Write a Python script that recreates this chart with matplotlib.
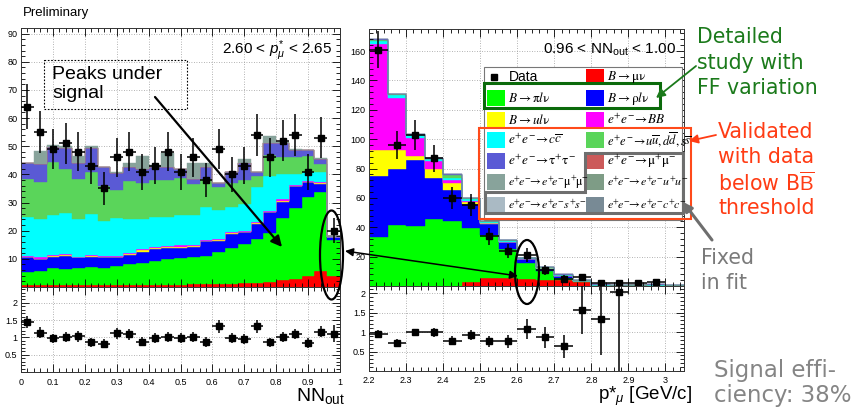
import numpy as np
import matplotlib
matplotlib.use("Agg")
import matplotlib.pyplot as plt
from matplotlib import ticker
from matplotlib.patches import Rectangle, Ellipse, Polygon, FancyArrowPatch

plt.rcParams["font.family"] = ["Liberation Sans", "DejaVu Sans"]
plt.rcParams["mathtext.fontset"] = "custom"
plt.rcParams["mathtext.rm"] = "Liberation Sans"
plt.rcParams["mathtext.it"] = "Liberation Sans:italic"
plt.rcParams["mathtext.bf"] = "Liberation Sans:bold"

# ---------------- binning ----------------
nn_edges = np.linspace(0.0, 1.0, 26)                 # NN_out, 25 bins
p_edges = np.round(np.linspace(2.20, 3.05, 18), 3)   # p*_mu, 17 bins

# ---------------- NN_out distribution (2.60 < p* < 2.65) ----------------
nn_data = [64, 55, 49, 51, 48, 43, 35, 46, 48, 41, 43, 48, 41, 46, 38, 49, 40, 43, 54, 46, 52, 54, 41, 53, 20]
nn_ratio = [1.45, 1.14, 0.97, 1.02, 1.03, 0.86, 0.82, 1.12, 1.09, 0.88, 0.99, 1.01, 0.98, 1.02, 0.86,
            1.32, 0.98, 0.95, 1.32, 0.86, 1.01, 1.10, 0.84, 1.16, 1.10]
nn_munu = [0.6, 0.6, 0.6, 0.6, 0.6, 0.6, 0.6, 0.7, 0.7, 0.7, 0.7, 0.8, 0.8, 0.9, 1.0, 1.1, 1.2, 1.4, 1.5, 1.9, 2.4, 2.7, 3.9, 5.8, 4.0]
nn_pilnu = [4.9, 5.1, 6.3, 5.7, 6.3, 6.5, 6.3, 6.8, 7.4, 8.0, 8.6, 9.1, 9.4, 9.8, 10.1, 11.2, 12.6, 13.8, 15.5, 17.3, 22.1, 25.4, 28.0, 27.9, 12.8]
nn_rholnu = [5.0, 4.2, 3.8, 4.7, 3.6, 3.6, 3.6, 3.0, 3.4, 3.9, 4.2, 3.9, 3.8, 3.6, 5.1, 4.1, 5.0, 4.2, 5.4, 7.3, 5.6, 7.7, 5.3, 3.0, 0.8]
nn_ulnu = [0.2, 0.2, 0.2, 0.3, 0.1, 0.3, 0.2, 0.2, 0.3, 0.4, 0.3, 0.3, 0.3, 0.3, 0.3, 0.2, 0.3, 0.3, 0.3, 0.2, 0.4, 0.2, 0.2, 0.2, 0.1]
nn_bb = [0.2, 0.4, 0.3, 0.4, 0.2, 0.4, 0.3, 0.2, 0.4, 0.5, 0.4, 0.4, 0.5, 0.4, 0.3, 0.4, 0.5, 0.3, 0.3, 0.4, 0.6, 0.3, 0.2, 0.3, 0.1]
nn_cc = [13.9, 13.7, 14.2, 14.7, 13.4, 14.6, 12.6, 13.6, 12.0, 10.7, 10.7, 10.3, 10.6, 10.4, 11.5, 10.5, 8.9, 9.5, 12.5, 12.5, 9.1, 3.7, 3.2, 3.6, 0.2]
nn_uds = [13.4, 13.1, 19.0, 15.6, 14.2, 14.8, 12.4, 10.0, 13.3, 12.7, 13.0, 13.1, 13.4, 11.1, 10.2, 8.0, 8.5, 8.4, 4.0, 7.2, 6.0, 6.2, 5.7, 3.0, 0.1]
nn_tautau = [5.8, 6.5, 5.4, 7.2, 5.6, 8.4, 6.5, 6.0, 5.0, 5.1, 4.6, 4.7, 3.0, 2.0, 4.1, 1.6, 3.8, 6.1, 1.4, 4.2, 4.8, 2.6, 2.1, 1.7, 0.1]
nn_mumu = [0, 0, 0, 0, 0, 0, 0, 0, 0, 0, 0.3, 0, 0, 0, 0, 0, 0, 0, 0, 0, 0, 0, 0, 0, 0]
nn_eemumu = [0.1, 4.4, 0.7, 0.8, 2.6, 0.8, 0.2, 0.5, 1.5, 4.6, 0.5, 4.9, 0.0, 5.7, 1.6, 0.0, 0.0, 1.3, 0.0, 2.5, 0.5, 0.2, 0.2, 0.2, 0.0]

# ---------------- p*_mu distribution (0.96 < NN_out < 1.00) ----------------
p_data = [161, 96, 103, 87, 60, 55, 34, 24, 21, 11, 5, 6, 2, 2, 2, 3, np.nan]
p_ratio = [0.96, 0.73, 0.99, 0.99, 0.78, 0.92, 0.76, 0.76, 1.08, 0.86, 0.63, 1.56, 1.33, 2.02,
           np.nan, np.nan, np.nan]
p_ratio_err = [0.08, 0.08, 0.10, 0.11, 0.11, 0.13, 0.14, 0.17, 0.26, 0.28, 0.30, 0.62, 0.92, 2.10,
               np.nan, np.nan, np.nan]
p_munu = [0.3, 0.3, 0.3, 0.3, 0.3, 2.7, 5.5, 5.3, 4.8, 4.2, 3.8, 3.0, 0, 0, 0, 0, 0]
p_pilnu = [33.1, 40.9, 40.4, 45.0, 44.3, 36.9, 29.5, 19.7, 11.0, 6.3, 1.8, 0.3, 0, 0, 0, 0, 0]
p_rholnu = [41.2, 38.8, 45.1, 28.0, 20.9, 15.9, 7.5, 5.0, 2.5, 1.4, 1.4, 0.2, 0, 0, 0, 0, 0]
p_ulnu = [17.8, 12.8, 2.9, 6.1, 4.3, 1.8, 0.4, 0.2, 0.2, 0.1, 0.1, 0.1, 0, 0, 0, 0, 0]
p_bb = [72.6, 35.5, 12.3, 5.6, 2.5, 0.7, 0.3, 0.1, 0, 0, 0, 0, 0, 0, 0, 0, 0]
p_cc = [1.5, 1.5, 1.5, 1.2, 1.5, 1.0, 0.6, 0.4, 0.3, 0.3, 0.3, 0.1, 0.4, 0.3, 0.3, 0.4, 0.2]
p_uds = [0.8, 0.6, 0.6, 0.6, 1.5, 0.6, 0.4, 0.3, 0.3, 0.3, 0.3, 0.1, 0.5, 0.3, 0.4, 0.4, 0.3]
p_tautau = [0.7, 0.6, 0.7, 0.6, 0.7, 0.4, 0.3, 0.3, 0.2, 0.2, 0.2, 0.15, 0.4, 0.3, 0.3, 0.4, 0.2]
p_eecc = [0, 0, 0, 0, 0, 0, 0, 0, 0, 0, 0, 0, 0.2, 0.1, 0.2, 0.2, 0.1]

# ---------------- component styles ----------------
colors = {
    "munu": "#ff0000", "pilnu": "#00ff00", "rholnu": "#0000ff", "ulnu": "#ffff00",
    "bb": "#ff00ff", "cc": "#00ffff", "uds": "#5ad55a", "tautau": "#5a5ad5",
    "mumu": "#cc5a5a", "eemumu": "#88a39b", "eeuu": "#7e9c86", "eess": "#aabac4",
    "eecc": "#788a95",
}
labels = {
    "munu": r"$B\rightarrow\mathrm{\mu\nu}$",
    "pilnu": r"$B\rightarrow\mathrm{\pi}l\mathrm{\nu}$",
    "rholnu": r"$B\rightarrow\mathrm{\rho}l\mathrm{\nu}$",
    "ulnu": r"$B\rightarrow ul\mathrm{\nu}$",
    "bb": r"$e^{+}e^{-}\!\rightarrow\!BB$",
    "cc": r"$e^{+}e^{-}\!\rightarrow\!c\overline{c}$",
    "uds": r"$e^{+}e^{-}\!\rightarrow\!u\overline{u},d\overline{d},s\overline{s}$",
    "tautau": r"$e^{+}e^{-}\!\rightarrow\!\mathrm{\tau^{+}\tau^{-}}$",
    "mumu": r"$e^{+}e^{-}\!\rightarrow\!\mathrm{\mu^{+}\mu^{-}}$",
    "eemumu": r"$e^{+}\!e^{-}\!\!\rightarrow\!e^{+}\!e^{-}\mathrm{\mu^{+}\!\mu^{-}}$",
    "eeuu": r"$e^{+}\!e^{-}\!\!\rightarrow\!e^{+}\!e^{-}u^{+}\!u^{-}$",
    "eess": r"$e^{+}\!e^{-}\!\!\rightarrow\!e^{+}\!e^{-}s^{+}\!s^{-}$",
    "eecc": r"$e^{+}\!e^{-}\!\!\rightarrow\!e^{+}\!e^{-}c^{+}\!c^{-}$",
}
label_size = {"eemumu": 8.6, "eeuu": 8.6, "eess": 8.6, "eecc": 8.6, "uds": 9.0}

W, H = 863, 411
fig = plt.figure(figsize=(W / 100, H / 100), dpi=100)


def px_axes(x0, y0, x1, y1, **kw):
    return fig.add_axes([x0 / W, 1 - y1 / H, (x1 - x0) / W, (y1 - y0) / H], **kw)


def fmt_g(v, _):
    return "" if abs(v) < 1e-9 else f"{v:g}"


def root_style(ax, xmaj, xmin, ymaj, ymin, xlabels=True):
    ax.xaxis.set_major_locator(ticker.MultipleLocator(xmaj))
    ax.xaxis.set_minor_locator(ticker.MultipleLocator(xmin))
    ax.yaxis.set_major_locator(ticker.MultipleLocator(ymaj))
    ax.yaxis.set_minor_locator(ticker.MultipleLocator(ymin))
    ax.tick_params(which="both", direction="in", top=True, right=True,
                   labelsize=6.5, width=0.6, pad=2.5)
    ax.tick_params(which="major", length=5.5)
    ax.tick_params(which="minor", length=2.8)
    ax.yaxis.set_major_formatter(ticker.FuncFormatter(fmt_g))
    if xlabels:
        ax.xaxis.set_major_formatter(ticker.FuncFormatter(lambda v, _: f"{v:g}"))
    else:
        ax.tick_params(labelbottom=False)
    for s in ax.spines.values():
        s.set_linewidth(0.7)
        s.set_color("#333333")
    lo, hi = ax.get_xlim()
    for v in np.arange(np.ceil(lo / xmaj) * xmaj, hi + 1e-9, xmaj):
        ax.axvline(v, color="#9a9a9a", lw=0.6, ls=(0, (1, 2)), zorder=0.5)
    lo, hi = ax.get_ylim()
    for v in np.arange(np.ceil(lo / ymaj) * ymaj, hi + 1e-9, ymaj):
        ax.axhline(v, color="#9a9a9a", lw=0.6, ls=(0, (1, 2)), zorder=0.5)


def draw_stack(ax, edges, comps):
    bottom = np.zeros(len(edges) - 1)
    for key, vals in comps:
        v = np.asarray(vals, float)
        ax.stairs(bottom + v, edges, baseline=bottom.copy(), fill=True,
                  facecolor=colors[key], edgecolor=colors[key], lw=0.3, zorder=1)
        bottom = bottom + v
    return bottom


def draw_data(ax, edges, values, errors=None):
    edges = np.asarray(edges)
    centers = 0.5 * (edges[:-1] + edges[1:])
    half = 0.5 * np.diff(edges)
    v = np.asarray(values, float)
    e = np.sqrt(v) if errors is None else np.asarray(errors, float)
    ax.errorbar(centers, v, yerr=e, xerr=half, fmt="s", ms=4.6, color="black",
                ecolor="black", elinewidth=1.1, capsize=0, zorder=4)


# ---------------- left: NN_out ----------------
axL = px_axes(21, 28, 340, 287)
axL.set_xlim(0, 1)
axL.set_ylim(0, 92)
draw_stack(axL, nn_edges, [("munu", nn_munu), ("pilnu", nn_pilnu), ("rholnu", nn_rholnu),
                           ("ulnu", nn_ulnu), ("bb", nn_bb), ("cc", nn_cc), ("uds", nn_uds),
                           ("tautau", nn_tautau), ("mumu", nn_mumu), ("eemumu", nn_eemumu)])
draw_data(axL, nn_edges, nn_data)
root_style(axL, 0.1, 0.02, 10, 2, xlabels=False)

axLr = px_axes(21, 287, 340, 372)
axLr.set_xlim(0, 1)
axLr.set_ylim(0, 2.46)
nn_ratio_err = np.asarray(nn_ratio) / np.sqrt(nn_data)
draw_data(axLr, nn_edges, nn_ratio, nn_ratio_err)
root_style(axLr, 0.1, 0.02, 0.5, 0.1)
axLr.tick_params(axis="x", pad=4)

# ---------------- right: p*_mu ----------------
axR = px_axes(369, 29, 684, 286)
axR.set_xlim(2.2, 3.05)
axR.set_ylim(0, 175)
draw_stack(axR, p_edges, [("munu", p_munu), ("pilnu", p_pilnu), ("rholnu", p_rholnu),
                          ("ulnu", p_ulnu), ("bb", p_bb), ("cc", p_cc), ("uds", p_uds),
                          ("tautau", p_tautau), ("eecc", p_eecc)])
draw_data(axR, p_edges, p_data)
root_style(axR, 0.1, 0.02, 20, 4, xlabels=False)

axRr = px_axes(369, 286, 684, 371)
axRr.set_xlim(2.2, 3.05)
axRr.set_ylim(0, 2.18)
draw_data(axRr, p_edges, p_ratio, p_ratio_err)
root_style(axRr, 0.1, 0.02, 0.5, 0.1)
axRr.tick_params(axis="x", pad=3.5)

# ---------------- overlay in pixel coordinates ----------------
ov = fig.add_axes([0, 0, 1, 1], zorder=10)
ov.set_xlim(0, W)
ov.set_ylim(H, 0)
ov.axis("off")
ov.patch.set_alpha(0)

ov.text(23, 13, "Preliminary", fontsize=9.5, va="center", ha="left")
ov.text(332, 51, r"2.60 < $p^{*}_{\mu}$ < 2.65", fontsize=11, ha="right", va="center")
ov.text(676, 50, r"0.96 < NN$_{\mathrm{out}}$ < 1.00", fontsize=11, ha="right", va="center")
ov.text(345, 396, r"NN$_{\mathrm{out}}$", fontsize=14, ha="right", va="center")
ov.text(692, 396, r"p*$_{\mu}$ [GeV/c]", fontsize=13.5, ha="right", va="center")

# legend
ov.add_patch(Rectangle((484, 67), 198, 153, facecolor="white", edgecolor="#777777", lw=0.8))
rows_y = [77, 98, 120, 140, 161, 182, 205]
left_col = [None, "pilnu", "ulnu", "cc", "tautau", "eemumu", "eess"]
right_col = ["munu", "rholnu", "bb", "uds", "mumu", "eeuu", "eecc"]
for y, lk, rk in zip(rows_y, left_col, right_col):
    if lk is None:
        ov.plot([494], [y], marker="s", ms=4, color="black")
        ov.text(509, y, "Data", fontsize=10, va="center", ha="left")
    else:
        ov.add_patch(Rectangle((487, y - 8), 18, 16, facecolor=colors[lk], edgecolor="none"))
        ov.text(508, y, labels[lk], fontsize=label_size.get(lk, 9.5), va="center", ha="left",
                math_fontfamily="stix")
    ov.add_patch(Rectangle((586, y - 8), 18, 16, facecolor=colors[rk], edgecolor="none"))
    ov.text(607, y, labels[rk], fontsize=label_size.get(rk, 9.5), va="center", ha="left",
            math_fontfamily="stix")

# highlight boxes around legend entries
ov.add_patch(Rectangle((484, 83), 176, 25, facecolor="none", edgecolor="#0b6a0b", lw=2.2))
ov.add_patch(Rectangle((479, 128), 212, 91, facecolor="none", edgecolor="#ff4a1a", lw=1.5))
ov.add_patch(Polygon([(585, 153), (683, 153), (683, 213), (485, 213), (485, 192), (585, 192)],
                     closed=True, facecolor="none", edgecolor="#6e6e6e", lw=2.2))

# "Peaks under signal" callout
ov.add_patch(Rectangle((44, 60), 143, 49, facecolor="none", edgecolor="black", lw=0.8,
                       ls=(0, (1.5, 1.5))))
ov.text(52, 84, "Peaks under\nsignal", fontsize=14, va="center", ha="left", linespacing=1.2)


def arrow(p0, p1, color="black", lw=1.5, style="-|>", ms=12):
    ov.add_patch(FancyArrowPatch(p0, p1, arrowstyle=style, mutation_scale=ms, color=color,
                                 lw=lw, shrinkA=0, shrinkB=0))


arrow((155, 97), (282, 247), lw=1.6, ms=16)
arrow((345, 251), (518, 276), lw=1.1, style="<|-|>", ms=12)
ov.add_patch(Ellipse((331.5, 255), 23, 89, facecolor="none", edgecolor="black", lw=1.6))
ov.add_patch(Ellipse((527, 272), 24, 64, facecolor="none", edgecolor="black", lw=1.6))

# side notes, one text per line
ann = dict(family=["DejaVu Sans"], ha="left", va="center")
green, red, grey = "#1b7a1b", "#ff3c14", "#7a7a7a"
for y, s in zip([37, 63, 88], ["Detailed", "study with", "FF variation"]):
    ov.text(697, y, s, fontsize=14.8, color=green, **ann)
arrow((696, 66), (656, 98), color=green, lw=1.3, ms=13)
for y, s in zip([132, 157, 183, 208],
                ["Validated", "with data", r"below B$\overline{\mathrm{B}}$", "threshold"]):
    ov.text(718, y, s, fontsize=14.8, color=red, **ann)
arrow((716, 135), (689, 141), color=red, lw=1.3, ms=13)
for y, s in zip([258, 283], ["Fixed", "in fit"]):
    ov.text(701, y, s, fontsize=14.8, color=grey, **ann)
arrow((712, 240), (683, 202), color="#6e6e6e", lw=2.2, ms=13)
for y, s in zip([370, 395], ["Signal effi-", "ciency: 38%"]):
    ov.text(714, y, s, fontsize=16.5, color="#858585", **ann)

fig.savefig("out.png", dpi=100)
